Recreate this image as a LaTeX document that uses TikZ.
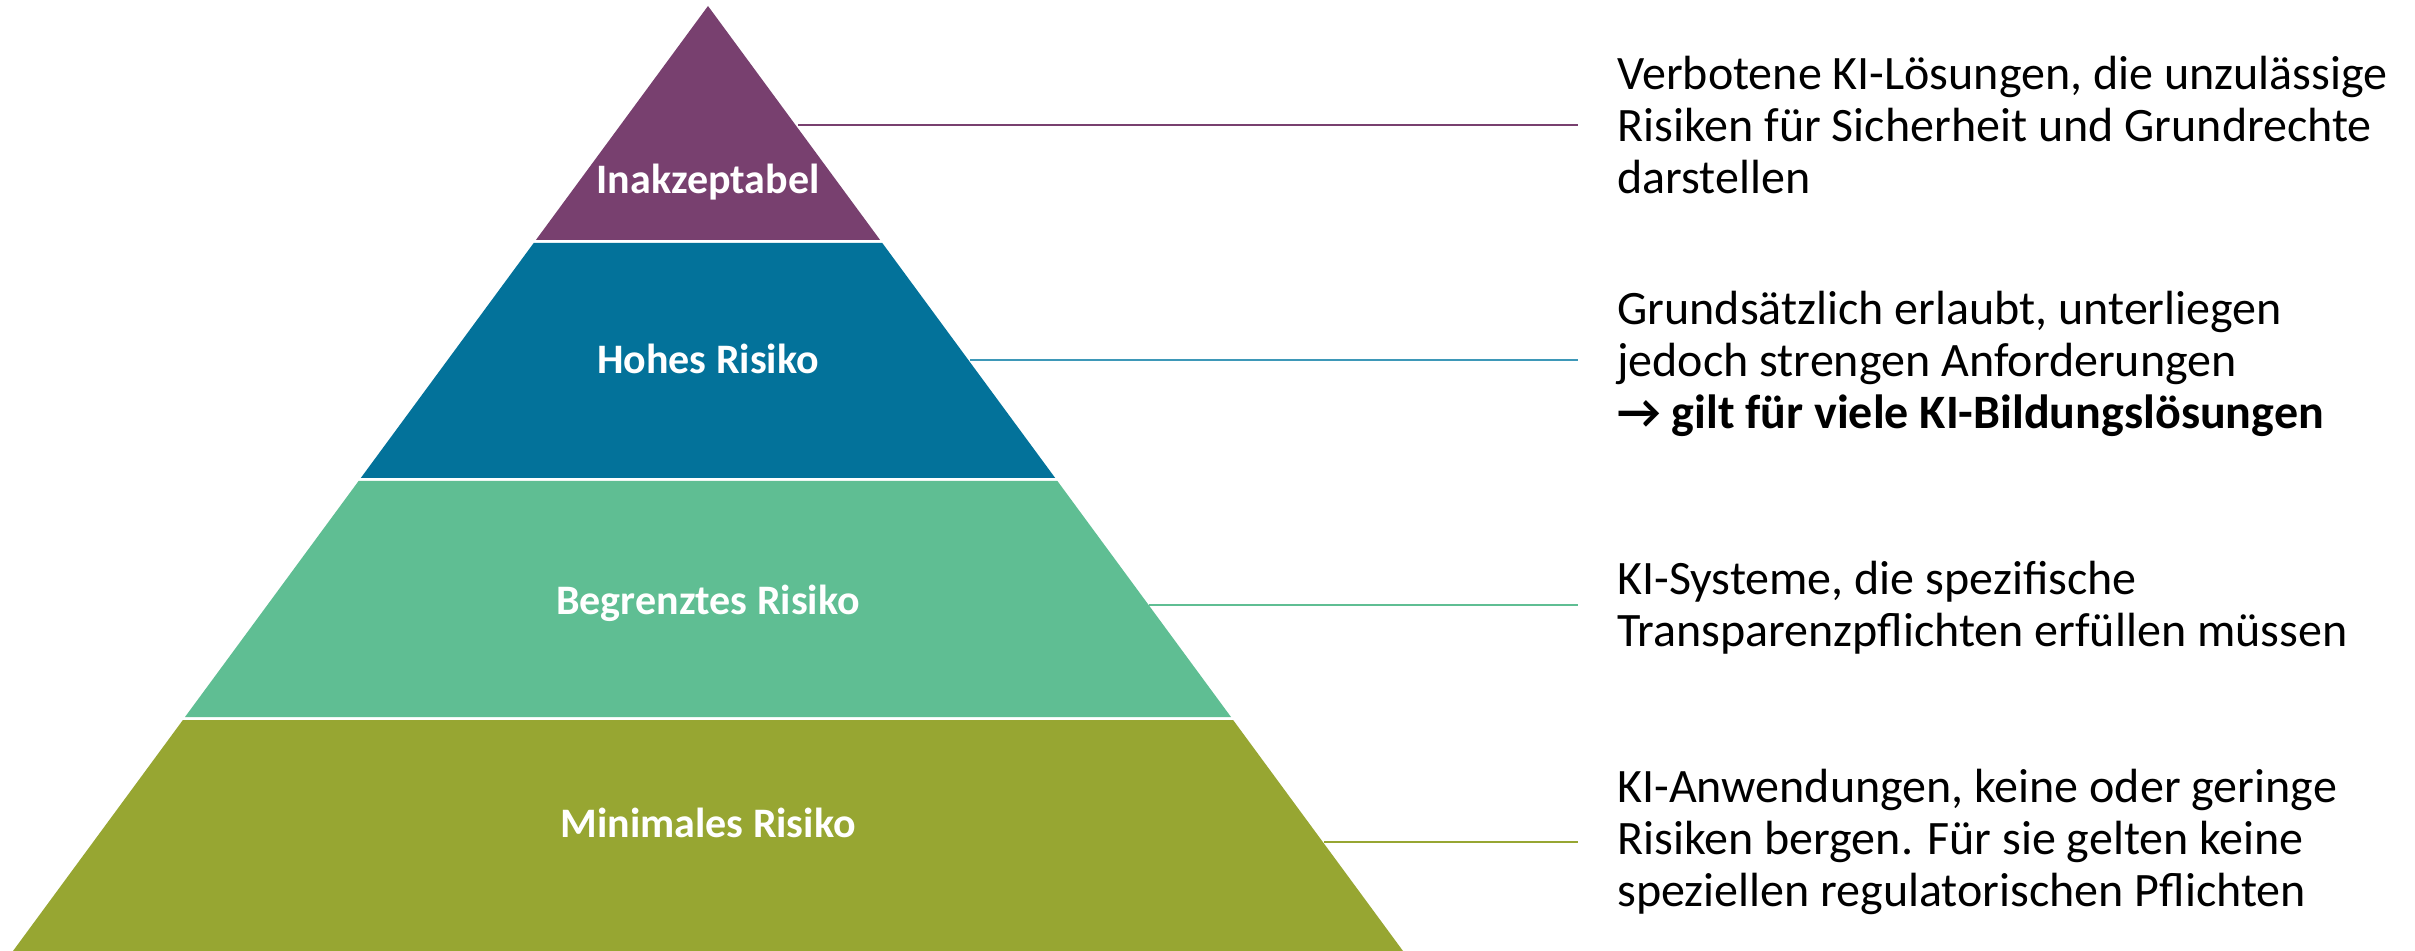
\documentclass[tikz,border=0pt]{standalone}
\usepackage{fontspec}
\setmainfont{Carlito}
\newfontfamily\arrowfont{DejaVu Sans}
\definecolor{cpurple}{HTML}{78406F}
\definecolor{cblue}{HTML}{03729A}
\definecolor{cgreen}{HTML}{5FBE93}
\definecolor{colive}{HTML}{97A632}
\definecolor{lblue}{HTML}{3E98B8}
\begin{document}
\begin{tikzpicture}[x=0.5pt,y=-0.5pt,
  lbl/.style={text=white,font=\fontsize{21}{25}\selectfont\bfseries,inner sep=0pt},
  desc/.style={anchor=west,align=left,inner sep=0pt,font=\fontsize{24}{25.8}\selectfont},
  conn/.style={line width=0.75pt,shorten >=19.5pt}]
\useasboundingbox (0,0) rectangle (2415,951);
\fill[white] (0,0) rectangle (2415,951);
% bands
\fill[cpurple] (708,6) -- (880.1,240) -- (535.9,240) -- cycle;
\fill[cblue] (533.7,243) -- (882.3,243) -- (1055.2,478) -- (360.8,478) -- cycle;
\fill[cgreen] (358.6,481) -- (1057.4,481) -- (1231.0,717) -- (185.0,717) -- cycle;
\fill[colive] (182.9,720) -- (1233.1,720) -- (1403,951) -- (13,951) -- cycle;
% labels
\node[lbl] (l1) at (708,182) {Inakzeptabel};
\node[lbl] (l2) at (708,359) {Hohes Risiko};
\node[lbl] (l3) at (708,603) {Begrenztes Risiko};
\node[lbl] (l4) at (708,823) {Minimales Risiko};
% descriptions
\node[desc] (t1) at (1617,125) {Verbotene KI-Lösungen, die unzulässige\\Risiken für Sicherheit und Grundrechte\\darstellen};
\node[desc] (t2) at (1617,364) {Grundsätzlich erlaubt, unterliegen\\jedoch strengen Anforderungen\\\textbf{→ gilt für viele KI-Bildungslösungen}};
\node[desc] (t3) at (1617,608) {KI-Systeme, die spezifische\\Transparenzpflichten erfüllen müssen};
\node[desc] (t4) at (1617,842) {KI-Anwendungen, keine oder geringe\\Risiken bergen. Für sie gelten keine\\speziellen regulatorischen Pflichten};
% connectors
\coordinate (c1) at (798,125);
\coordinate (c2) at (970,360);
\coordinate (c3) at (1149,605);
\coordinate (c4) at (1324,842);
\draw[conn,cpurple] (c1) -- (c1 -| t1.west);
\draw[conn,lblue] (c2) -- (c2 -| t2.west);
\draw[conn,cgreen] (c3) -- (c3 -| t3.west);
\draw[conn,colive] (c4) -- (c4 -| t4.west);
\end{tikzpicture}
\end{document}
